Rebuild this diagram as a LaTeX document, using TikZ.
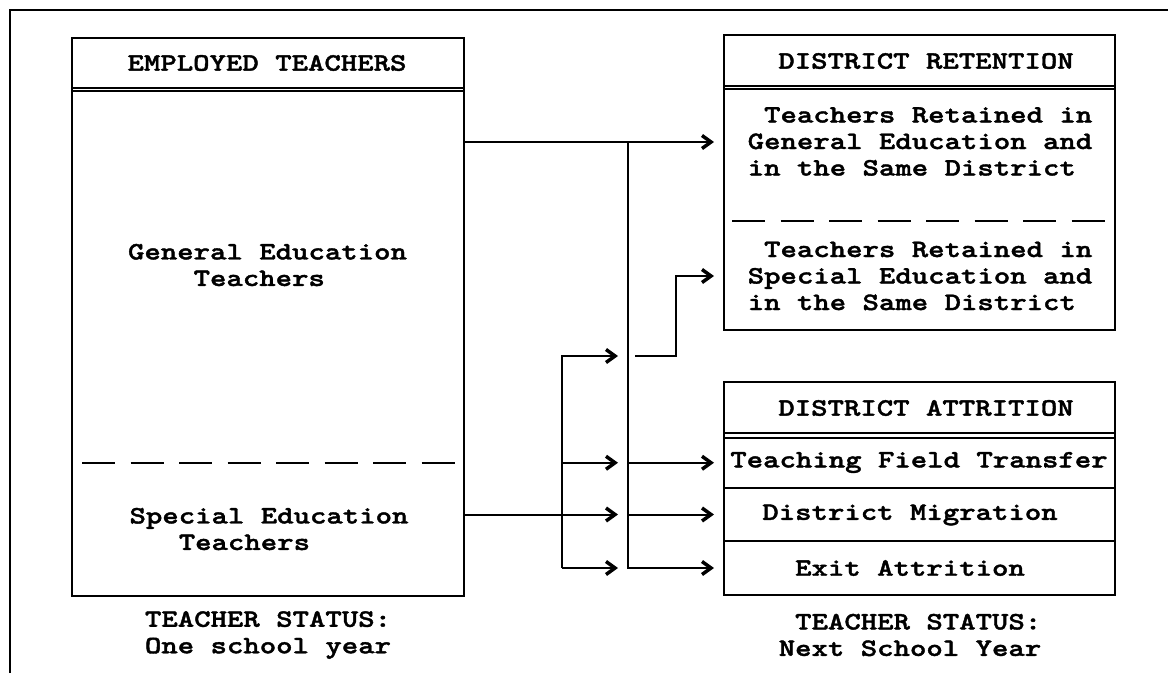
\documentclass[tikz,border=0pt]{standalone}
\usepackage{fontspec}
\newfontfamily\typefont{lmmonolt10-bold}[Extension=.otf, FakeStretch=1.25, FakeBold=1.6]
\usetikzlibrary{arrows.meta,positioning}

\tikzset{
  box/.style={draw, rectangle, line width=2pt, inner sep=0pt},
  lbl/.style={font=\typefont\fontsize{25}{26.5}\selectfont, align=left, inner sep=0pt},
  wire/.style={line width=2pt},
  flow/.style={line width=2pt, -{Straight Barb[length=9pt,width=13pt,line width=3.5pt]}},
  split/.style={line width=2pt, dash pattern=on 33pt off 15.5pt},
}

\begin{document}
\begin{tikzpicture}[x=1pt,y=1pt]
\useasboundingbox (0,0) rectangle (1168,-673);
% outer frame (top and left only)
\draw [wire] (10,-673) -- (10,-10) -- (1168,-10);

% one school year
\node [box, minimum width=392pt, minimum height=50pt] (emphead) at (268,-63) {};
\node [box, minimum width=392pt, minimum height=508pt] (emp) at (268,-342) {};
\draw [wire] ([yshift=-3.5pt]emp.north west) -- ([yshift=-3.5pt]emp.north east);
\draw [split] (82,-463) -- (457,-463);
\node [lbl] (empt) at (267,-63) {EMPLOYED TEACHERS};
\node [lbl] (gen) at (267.5,-265) {General Education\\\hphantom{XXXX}Teachers};
\node [lbl] (spec) at (269,-529) {Special Education\\\hphantom{XXX}Teachers};
\node [lbl] (st1) at (268,-635) {TEACHER STATUS:\\One school year};

% next school year: retention
\node [box, minimum width=391pt, minimum height=51pt] (rethead) at (919.5,-60.5) {};
\node [box, minimum width=391pt, minimum height=244pt] (ret) at (919.5,-208) {};
\draw [wire] ([yshift=-3.5pt]ret.north west) -- ([yshift=-3.5pt]ret.north east);
\draw [split] (732,-221) -- (1107,-221);
\node [lbl] (rett) at (926,-61) {DISTRICT RETENTION};
\node [lbl] (rg) at (920,-141.5) {\hphantom{X}Teachers Retained in\\General Education and\\in the Same District};
\node [lbl] (rs) at (920,-276) {\hphantom{X}Teachers Retained in\\Special Education and\\in the Same District};

% next school year: attrition
\node [box, minimum width=391pt, minimum height=51pt] (atthead) at (919.5,-407.5) {};
\node [box, minimum width=391pt, minimum height=162pt] (att) at (919.5,-514) {};
\node [box, minimum width=391pt, minimum height=50.5pt] (tf) at (919.5,-462.75) {};
\node [box, minimum width=391pt, minimum height=53pt] (dm) at (919.5,-514.5) {};
\node [box, minimum width=391pt, minimum height=54pt] (ex) at (919.5,-568) {};
\node [lbl] (attt) at (926,-408) {DISTRICT ATTRITION};
\node [lbl] (tft) at (919,-462.5) {Teaching Field Transfer};
\node [lbl] (dmt) at (910,-515) {District Migration};
\node [lbl] (ext) at (910,-568) {Exit Attrition};
\node [lbl] (st2) at (910,-635) {\hphantom{X}TEACHER STATUS:\\Next School Year};

% connectors
\coordinate (ja) at (628,-142);
\coordinate (jb) at (562,-356);
\coordinate (jd) at (635,-356);
\draw [flow, shorten >=9pt] (emp.east |- ja) -- (ret.west |- ja);
\draw [flow, shorten >=9pt] (ja) |- (ex.west);
\draw [flow, shorten >=9pt] (ja |- tf.west) -- (tf.west);
\draw [flow, shorten >=9pt] (ja |- dm.west) -- (dm.west);
\draw [flow, shorten >=10pt] (emp.east |- dm.west) -- (ja |- dm.west);
\draw [flow, shorten >=10pt] (jb |- ex.west) -- (jb) -- (ja |- jb);
\draw [flow, shorten >=10pt] (jb |- tf.west) -- (ja |- tf.west);
\draw [flow, shorten >=10pt] (jb |- ex.west) -- (ja |- ex.west);
\draw [flow, shorten >=9pt] (jd) -- (676,-356) |- (ret.west |- rs);
\end{tikzpicture}
\end{document}
